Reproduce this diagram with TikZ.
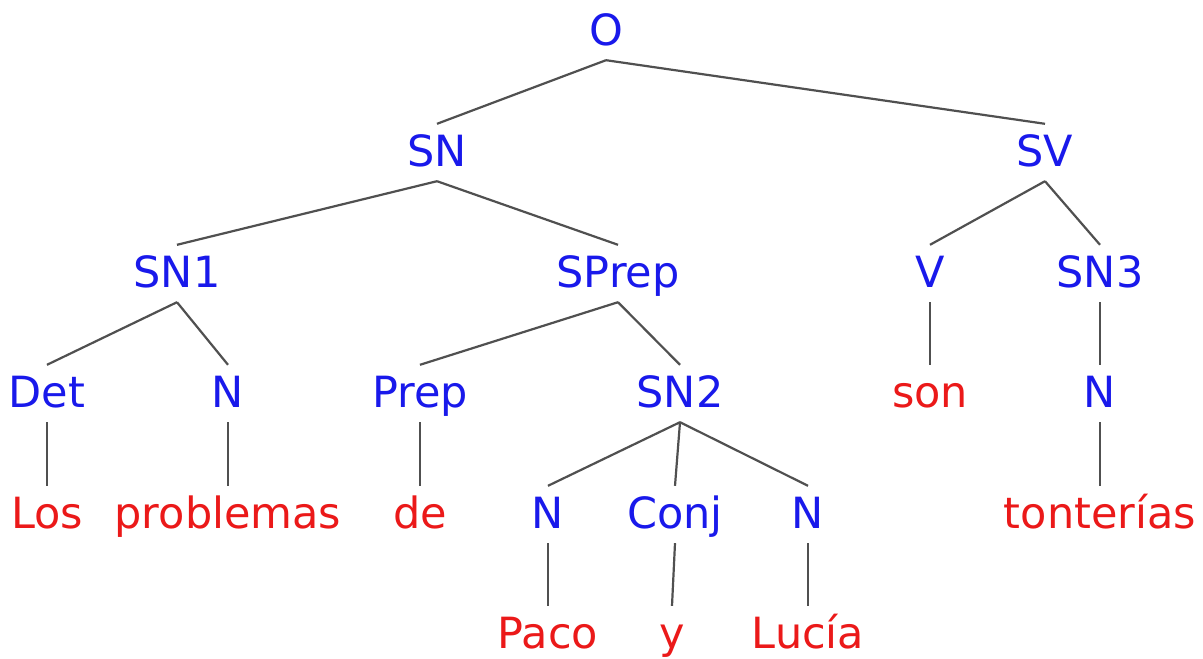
\documentclass[tikz,border=0pt]{standalone}
\usepackage{fontspec}
\setmainfont{DejaVu Sans}
\definecolor{catblue}{RGB}{25,25,235}
\definecolor{wordred}{RGB}{235,25,25}
\definecolor{edgegray}{RGB}{80,80,80}
\begin{document}
\begin{tikzpicture}[x=1pt,y=1pt,
  lbl/.style={anchor=base,inner sep=0pt,text height=42pt,text depth=15pt,font=\fontsize{43}{50}\selectfont},
  cat/.style={lbl,text=catblue},
  word/.style={lbl,text=wordred},
  edge/.style={draw=edgegray,line width=2.2pt}]
\useasboundingbox[fill=white] (0,0) rectangle (1203,-659);
% level 0
\node[cat] (O) at (606,-45) {O};
% level 1
\node[cat] (SN) at (437,-166) {SN};
\node[cat] (SV) at (1045,-166) {SV};
% level 2
\node[cat] (SN1) at (177,-287) {SN1};
\node[cat] (SPrep) at (618,-287) {SPrep};
\node[cat] (V) at (930,-287) {V};
\node[cat] (SN3) at (1100,-287) {SN3};
% level 3
\node[cat] (Det) at (47,-407) {Det};
\node[cat] (N1) at (228,-407) {N};
\node[cat] (Prep) at (420,-407) {Prep};
\node[cat] (SN2) at (680,-407) {SN2};
\node[word] (son) at (930,-407) {son};
\node[cat] (N3) at (1100,-407) {N};
% level 4
\node[word] (Los) at (47,-528) {Los};
\node[word] (problemas) at (228,-528) {problemas};
\node[word] (de) at (420,-528) {de};
\node[cat] (Na) at (548,-528) {N};
\node[cat] (Conj) at (675,-528) {Conj};
\node[cat] (Nb) at (808,-528) {N};
\node[word] (tonterias) at (1100,-528) {tonterías};
% level 5
\node[word] (Paco) at (548,-648) {Paco};
\node[word] (y) at (672,-648) {y};
\node[word] (Lucia) at (808,-648) {Lucía};
% edges
\draw[edge] (O.south) -- (SN.north);
\draw[edge] (O.south) -- (SV.north);
\draw[edge] (SN.south) -- (SN1.north);
\draw[edge] (SN.south) -- (SPrep.north);
\draw[edge] (SV.south) -- (V.north);
\draw[edge] (SV.south) -- (SN3.north);
\draw[edge] (SN1.south) -- (Det.north);
\draw[edge] (SN1.south) -- (N1.north);
\draw[edge] (SPrep.south) -- (Prep.north);
\draw[edge] (SPrep.south) -- (SN2.north);
\draw[edge] (V.south) -- (son.north);
\draw[edge] (SN3.south) -- (N3.north);
\draw[edge] (Det.south) -- (Los.north);
\draw[edge] (N1.south) -- (problemas.north);
\draw[edge] (Prep.south) -- (de.north);
\draw[edge] (SN2.south) -- (Na.north);
\draw[edge] (SN2.south) -- (Conj.north);
\draw[edge] (SN2.south) -- (Nb.north);
\draw[edge] (N3.south) -- (tonterias.north);
\draw[edge] (Na.south) -- (Paco.north);
\draw[edge] (Conj.south) -- (y.north);
\draw[edge] (Nb.south) -- (Lucia.north);
\end{tikzpicture}
\end{document}
